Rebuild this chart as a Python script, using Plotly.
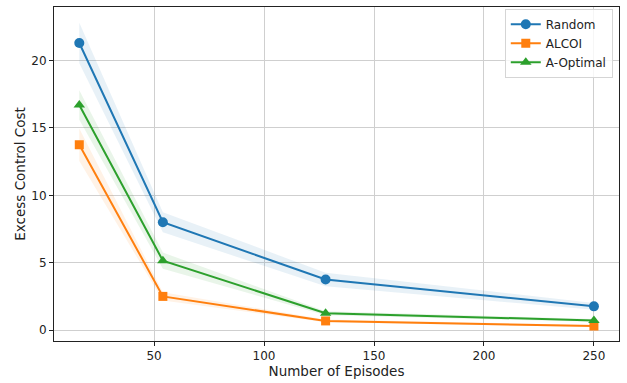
import plotly.graph_objects as go

episodes = [16, 54, 128, 250]

random_mean = [21.3, 8.0, 3.75, 1.76]
random_err = [1.5, 0.75, 0.5, 0.25]

alcoi_mean = [13.75, 2.5, 0.68, 0.3]
alcoi_err = [1.2, 0.3, 0.1, 0.08]

aopt_mean = [16.7, 5.15, 1.25, 0.72]
aopt_err = [1.1, 0.6, 0.15, 0.1]

names = ["Random", "ALCOI", "A-Optimal"]
colors = ["#1f77b4", "#ff7f0e", "#2ca02c"]
fills = ["rgba(31,119,180,0.1)", "rgba(255,127,14,0.1)", "rgba(44,160,44,0.1)"]
symbols = ["circle", "square", "triangle-up"]
sizes = [10, 9, 10]
means = [random_mean, alcoi_mean, aopt_mean]
errs = [random_err, alcoi_err, aopt_err]

fig = go.Figure()

for m, e, f in zip(means, errs, fills):
    upper = [a + b for a, b in zip(m, e)]
    lower = [a - b for a, b in zip(m, e)]
    fig.add_trace(go.Scatter(
        x=episodes + episodes[::-1], y=upper + lower[::-1],
        fill="toself", fillcolor=f, line=dict(width=0),
        mode="lines", showlegend=False, hoverinfo="skip"))

for n, m, c, s, sz in zip(names, means, colors, symbols, sizes):
    fig.add_trace(go.Scatter(
        x=episodes, y=m, name=n, mode="lines+markers",
        line=dict(color=c, width=2),
        marker=dict(symbol=s, size=sz, color=c)))

axis_common = dict(
    showgrid=True, gridcolor="#cfcfcf", gridwidth=1,
    showline=True, linecolor="#222222", linewidth=1, mirror=True,
    ticks="outside", ticklen=4, tickcolor="#222222",
    tickfont=dict(family="DejaVu Sans", size=12, color="#222222"),
    zeroline=False,
)

fig.update_layout(
    width=627, height=383,
    margin=dict(l=54, r=8, t=6, b=40),
    paper_bgcolor="white", plot_bgcolor="white",
    font=dict(family="DejaVu Sans", color="#222222"),
    xaxis=dict(range=[4.5, 261.4], tickvals=[50, 100, 150, 200, 250],
               title=dict(text="Number of Episodes", font=dict(size=13.5), standoff=4),
               **axis_common),
    yaxis=dict(range=[-0.81, 23.97], tickvals=[0, 5, 10, 15, 20],
               title=dict(text="Excess Control Cost", font=dict(size=13.5), standoff=2),
               **axis_common),
    legend=dict(x=0.989, y=0.995, xanchor="right", yanchor="top",
                bgcolor="rgba(255,255,255,0.8)", bordercolor="#d5d5d5", borderwidth=1,
                font=dict(size=12, family="DejaVu Sans"),
                tracegroupgap=0, itemwidth=30),
)

fig.write_html("out.html", config={"displayModeBar": False},
               post_script="document.body.style.margin='0px';")
